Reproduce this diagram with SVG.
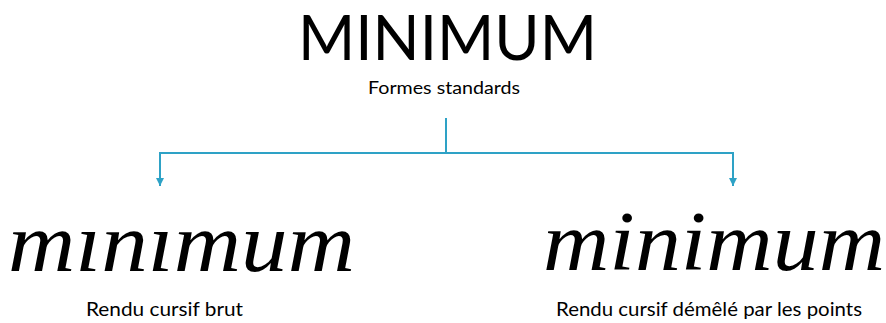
<svg xmlns="http://www.w3.org/2000/svg" width="886" height="323" viewBox="0 0 886 323">
<style>
.sans{font-family:"Lato","Open Sans","Liberation Sans",sans-serif;fill:#000}
.title{font-size:62px}
.lbl{font-size:19px}
.sub{font-size:18px}
.cur{font-family:"Liberation Serif","DejaVu Serif",serif;font-style:italic;font-size:84px;fill:#000}
.conn{fill:none;stroke:#2ea2c6;stroke-width:2}
</style>
<defs>
<marker id="ah" viewBox="0 0 10 10" refX="10" refY="5" markerWidth="4" markerHeight="4" markerUnits="strokeWidth" orient="auto">
<path d="M0,0 L10,5 L0,10 z" fill="#2ea2c6"/>
</marker>
</defs>
<g id="root">
<text class="sans title" x="447.5" y="60" text-anchor="middle" textLength="299" lengthAdjust="spacingAndGlyphs">MINIMUM</text>
<text class="sans sub" x="444" y="94" text-anchor="middle" textLength="152" lengthAdjust="spacingAndGlyphs">Formes standards</text>
</g>
<g id="connectors">
<path class="conn" d="M446,118 V153"/>
<path class="conn" d="M446,153 H160 V186" marker-end="url(#ah)"/>
<path class="conn" d="M446,153 H733 V186" marker-end="url(#ah)"/>
</g>
<g id="raw">
<text class="cur" x="8" y="271" textLength="347" lengthAdjust="spacingAndGlyphs">mınımum</text>
<text class="sans lbl" x="164.5" y="316" text-anchor="middle" textLength="157" lengthAdjust="spacingAndGlyphs">Rendu cursif brut</text>
</g>
<g id="dotted">
<text class="cur" x="543" y="270" textLength="342" lengthAdjust="spacingAndGlyphs">minimum</text>
<text class="sans lbl" x="709" y="316" text-anchor="middle" textLength="306" lengthAdjust="spacingAndGlyphs">Rendu cursif démêlé par les points</text>
</g>
</svg>
